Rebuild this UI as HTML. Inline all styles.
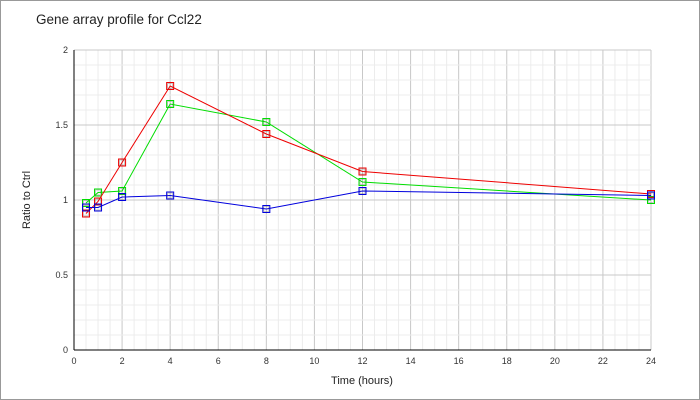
<!DOCTYPE html>
<html><head><meta charset="utf-8"><style>
body{margin:0;background:#fff}
svg{display:block;font-family:"Liberation Sans",sans-serif}
</style></head><body>
<svg id="chart" width="700" height="400">
<rect x="0.5" y="0.5" width="699" height="399" fill="#fff" stroke="#999"/>
<text x="36" y="24" font-size="13.5" fill="#222">Gene array profile for Ccl22</text>
<g id="grid"></g>
<g id="axes"></g>
<g id="series"></g>
<text x="362" y="384" font-size="11" text-anchor="middle" fill="#222">Time (hours)</text>
<text x="30" y="200" font-size="11" text-anchor="middle" fill="#222" transform="rotate(-90 30 200)">Ratio to Ctrl</text>
</svg>
<script>
const times=[0.5,1,2,4,8,12,24];
const redVals=[0.91,0.99,1.25,1.76,1.44,1.19,1.04];
const greenVals=[0.98,1.05,1.06,1.64,1.52,1.12,1.00];
const blueVals=[0.95,0.95,1.02,1.03,0.94,1.06,1.03];
const xTicks=[0,2,4,6,8,10,12,14,16,18,20,22,24];
const yTicks=[0,0.5,1,1.5,2];
const yTickLabels=["0","0.5","1","1.5","2"];
const X0=74,X1=651,Y0=350,Y1=50;
const xs=v=>X0+(X1-X0)*v/24;
const ys=v=>Y0-(Y0-Y1)*v/2;
const NS="http://www.w3.org/2000/svg";
function mk(tag,attrs,parent){const e=document.createElementNS(NS,tag);for(const k in attrs)e.setAttribute(k,attrs[k]);parent.appendChild(e);return e;}
const grid=document.getElementById('grid'),axes=document.getElementById('axes'),series=document.getElementById('series');
for(let h=0;h<=24;h+=0.5){const l=mk('line',{x1:xs(h),x2:xs(h),y1:Y1,y2:Y0,stroke:h%2===0?'#c8c8c8':'#ececec','stroke-width':1},grid);

}
for(let v=0;v<=2.001;v+=0.1){const r=Math.round(v*10)/10;const l=mk('line',{x1:X0,x2:X1,y1:ys(r),y2:ys(r),stroke:(Math.round(r*10)%5===0)?'#c8c8c8':'#ececec','stroke-width':1},grid);

}
const ax=mk('line',{x1:X0,x2:X0,y1:Y1,y2:Y0,stroke:'#000'},axes);


const bx=mk('line',{x1:X0,x2:X1,y1:Y0,y2:Y0,stroke:'#000'},axes);


xTicks.forEach(t=>{const tx=mk('text',{x:xs(t),y:Y0+14,'font-size':9,'text-anchor':'middle',fill:'#333'},axes);tx.textContent=t;

});
yTicks.forEach((t,i)=>{const tx=mk('text',{x:X0-6,y:ys(t)+3,'font-size':9,'text-anchor':'end',fill:'#333'},axes);tx.textContent=yTickLabels[i];

});
function draw(vals,color,name){
 const g=mk('g',{},series);
 
 
 const pl=mk('polyline',{points:vals.map((v,i)=>xs(times[i])+','+ys(v)).join(' '),fill:'none',stroke:color,'stroke-width':1},g);
 
 
 vals.forEach((v,i)=>{const r=mk('rect',{x:xs(times[i])-3.5,y:ys(v)-3.5,width:7,height:7,fill:'none',stroke:color,'stroke-width':1},g);
 
 
 const r2=mk('rect',{x:xs(times[i])-2.5,y:ys(v)-2.5,width:5,height:5,fill:'none',stroke:'#555','stroke-width':0.6,'stroke-opacity':0.5},g);
 
 });
}
draw(greenVals,'#00dd00','series-green');
draw(redVals,'#ee0000','series-red');
draw(blueVals,'#0000dd','series-blue');
</script>
</body></html>
